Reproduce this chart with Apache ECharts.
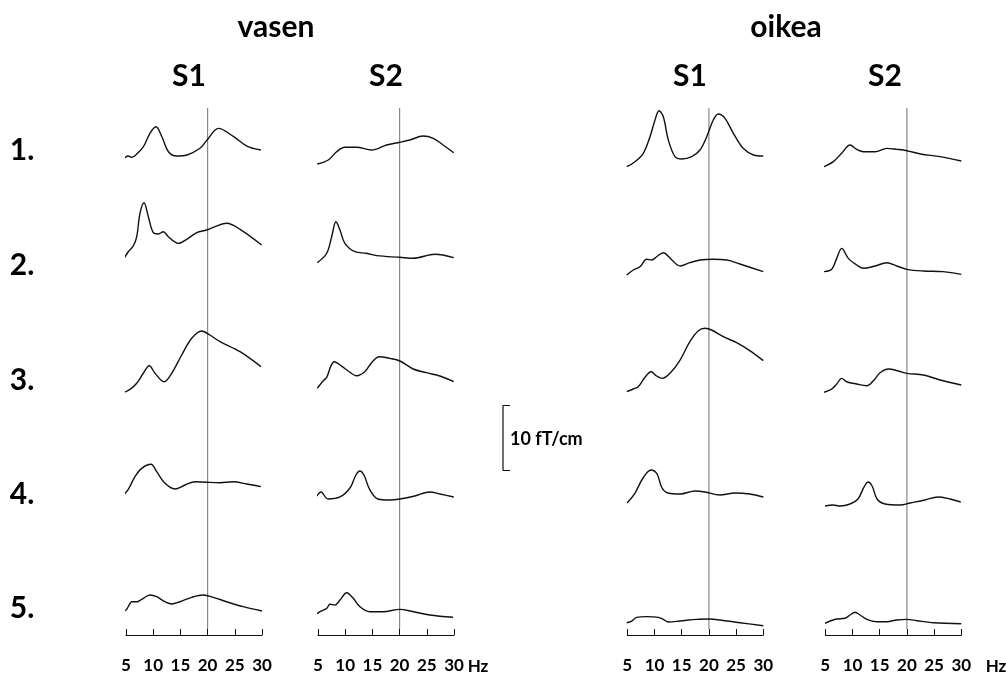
<!DOCTYPE html>
<html><head><meta charset="utf-8">
<script src="https://cdn.jsdelivr.net/npm/echarts@6/dist/echarts.min.js"></script>
<style>html,body{margin:0;padding:0;background:#fff}#c{width:1006px;height:680px}</style>
</head><body><div id="c"></div>
<script>
// ---- data ----
const freqTicks = [5, 10, 15, 20, 25, 30];
const rowLabels = ['1.', '2.', '3.', '4.', '5.'];
const sideLabels = ['vasen', 'oikea'];
const stimLabels = ['S1', 'S2'];
const markerHz = 20;
const scaleBarValue = 10;
const scaleBarLabel = '10 fT/cm';
const unitLabel = 'Hz';

// [frequency Hz, amplitude fT/cm above each row's baseline]
const vasenS1 = [
  [[4.5,2.42],[5.4,2.92],[6.0,2.72],[6.65,2.97],[8.2,4.35],[9.4,6.42],[10.5,7.43],[11.6,5.89],[12.8,3.58],[14.3,2.92],[16.2,3.08],[18.6,4.11],[19.9,5.38],[22.0,7.18],[24.8,5.89],[27.2,4.46],[29.8,3.85]],
  [[4.6,4.77],[5.42,5.89],[6.34,6.77],[6.97,8.2],[7.57,11.8],[8.31,13.43],[9.1,11.28],[10.02,8.82],[10.94,8.62],[11.86,8.97],[12.78,8.2],[14.61,7.18],[16.16,7.8],[18.0,8.82],[19.83,9.23],[21.36,9.74],[23.51,10.26],[25.96,9.34],[29.94,6.92]],
  [[4.63,1.95],[5.74,2.41],[6.97,3.34],[8.18,4.88],[9.28,6.05],[10.33,4.88],[11.99,3.58],[13.4,4.88],[15.24,7.69],[17.08,10.26],[18.9,11.38],[20.4,10.77],[22.3,9.74],[25.96,8.2],[29.8,5.9]],
  [[4.5,3.8],[5.42,4.72],[6.65,6.66],[7.89,7.95],[9.6,8.57],[10.64,7.43],[12.17,5.64],[14.0,4.77],[15.85,5.38],[17.7,5.89],[19.84,5.8],[22.28,5.74],[24.7,5.89],[27.2,5.54],[29.8,5.13]],
  [[4.82,3.74],[5.13,3.95],[5.74,4.87],[6.05,5.12],[6.97,5.12],[7.89,5.49],[9.41,6.15],[10.64,5.89],[12.17,5.12],[13.4,4.77],[14.93,5.12],[17.08,5.8],[19.2,6.15],[21.05,5.8],[23.5,5.12],[26.56,4.36],[30.0,3.69]]
];
const vasenS2 = [
  [[4.87,1.69],[6.89,2.31],[8.43,3.58],[9.95,4.26],[12.1,4.26],[14.85,3.85],[17.6,4.62],[20.05,5.03],[21.9,5.38],[24.3,5.99],[26.2,5.64],[28.0,4.62],[29.95,3.43]],
  [[4.87,4.2],[6.6,5.65],[7.51,8.2],[8.3,10.5],[9.04,9.23],[9.95,7.18],[11.8,5.89],[13.9,5.65],[15.8,5.28],[20.05,5.03],[22.5,4.88],[26.5,5.49],[29.95,4.97]],
  [[4.87,2.57],[5.97,3.74],[6.6,4.26],[7.33,5.9],[7.99,6.66],[9.35,5.99],[10.56,5.23],[12.1,4.51],[13.6,5.12],[14.85,6.5],[16.25,7.43],[18.2,7.18],[20.05,6.77],[22.5,5.54],[24.9,4.97],[27.4,4.46],[29.95,3.58]],
  [[4.8,3.69],[5.55,4.31],[6.83,3.23],[9.04,3.54],[10.87,4.92],[11.97,6.92],[12.7,7.54],[13.44,6.92],[14.54,4.62],[16.0,3.23],[18.2,3.08],[20.05,3.23],[22.8,3.69],[25.55,4.31],[27.4,4.0],[29.95,3.54]],
  [[4.76,3.23],[5.37,3.58],[6.6,4.1],[7.2,4.72],[8.12,4.62],[9.04,5.38],[10.27,6.51],[11.48,5.64],[12.7,4.36],[14.54,3.58],[16.98,3.58],[20.05,3.95],[22.5,3.58],[25.55,3.08],[29.83,2.72]]
];
const oikeaS1 = [
  [[4.9,1.28],[6.42,2.05],[7.94,3.34],[9.17,5.89],[10.09,8.46],[10.83,9.89],[11.62,8.97],[12.54,5.38],[13.77,2.82],[15.0,2.46],[16.84,2.82],[18.36,3.85],[19.6,5.89],[20.8,8.46],[21.73,9.38],[22.96,8.72],[24.5,6.41],[26.3,4.1],[28.2,3.08],[30.0,2.92]],
  [[4.9,2.31],[6.1,3.08],[7.33,3.58],[8.57,4.72],[9.49,4.62],[10.4,5.12],[11.6,5.74],[13.2,4.62],[14.7,3.69],[16.5,4.2],[18.4,4.62],[20.8,4.72],[23.3,4.62],[25.7,4.0],[30.0,2.82]],
  [[4.9,2.05],[6.1,2.46],[7.02,2.82],[8.25,4.26],[9.36,5.12],[10.4,4.46],[11.43,4.1],[12.85,4.87],[14.7,6.92],[16.5,9.74],[18.05,11.43],[19.3,11.8],[20.5,11.54],[22.65,10.51],[25.1,9.59],[27.5,8.36],[30.0,6.82]],
  [[4.95,2.62],[6.42,4.15],[7.89,6.46],[9.36,7.69],[10.47,7.08],[11.38,4.92],[12.48,4.15],[14.7,4.0],[17.45,4.46],[19.3,4.31],[22.0,3.85],[24.8,4.15],[27.5,4.0],[30.0,3.54]],
  [[4.9,1.89],[5.81,2.15],[6.73,2.72],[8.57,2.82],[10.7,2.72],[11.6,2.41],[12.54,2.0],[14.7,2.15],[17.76,2.41],[20.2,2.46],[22.04,2.31],[25.7,1.89],[30.0,1.43]]
];
const oikeaS2 = [
  [[4.76,1.28],[6.47,2.05],[8.0,3.34],[9.55,4.62],[10.78,3.95],[12.0,3.58],[14.15,3.58],[16.3,4.1],[18.15,3.95],[20.0,3.74],[22.5,3.23],[26.1,2.82],[30.0,2.15]],
  [[4.76,2.82],[6.18,3.18],[7.1,4.87],[8.02,6.41],[9.24,4.87],[10.78,3.85],[12.0,3.34],[14.15,3.69],[16.3,4.2],[18.15,3.69],[20.0,3.18],[23.05,2.92],[26.7,2.82],[30.0,2.4]],
  [[4.76,1.95],[6.18,2.46],[7.1,3.23],[8.02,4.1],[8.94,3.58],[10.78,3.23],[12.62,2.97],[13.84,3.74],[15.07,4.97],[16.6,5.54],[18.44,5.23],[20.0,4.87],[23.05,4.62],[26.1,3.85],[30.0,3.08]],
  [[4.95,2.15],[6.42,2.31],[7.71,2.15],[9.55,2.46],[11.0,3.23],[12.13,5.08],[12.86,5.85],[13.6,5.23],[14.52,3.23],[16.0,2.46],[18.75,2.31],[20.6,2.62],[23.3,3.08],[25.7,3.54],[27.9,3.23],[29.9,2.77]],
  [[4.95,1.8],[5.87,2.15],[7.1,2.46],[8.63,2.57],[9.55,3.08],[10.47,3.49],[11.39,3.08],[12.62,2.41],[14.47,2.05],[16.3,2.05],[18.15,2.31],[20.0,2.41],[21.83,2.2],[24.9,1.89],[30.0,1.74]]
];

// ---- layout ----
const FONT = 'Lato';
const columns = [vasenS1, vasenS2, oikeaS1, oikeaS2];
const colLeft = [126, 318, 627.3, 825.3];
const colWidth = 136;
const rowBase = [175, 290, 405, 520, 635];
const yMax = 18, gridH = 117;   // 6.5 px per fT/cm

const grid = [], xAxis = [], yAxis = [], series = [];
function addGrid(g, xa, ya) {
  const i = grid.length;
  grid.push(Object.assign({ outerBoundsMode: 'none', containLabel: false }, g));
  xa.gridIndex = i; ya.gridIndex = i;
  xAxis.push(xa); yAxis.push(ya);
  return i;
}
const hiddenY = (min, max) => ({ type: 'value', min, max, show: false });

columns.forEach((col, c) => {
  col.forEach((curve, r) => {
    const bottomRow = r === rowBase.length - 1;
    const xa = {
      type: 'value', min: freqTicks[0], max: freqTicks[freqTicks.length - 1], interval: 5,
      show: bottomRow, offset: 17,
      axisLine: { show: true, lineStyle: { color: '#111', width: 1 } },
      axisTick: { show: true, inside: true, length: 6, lineStyle: { color: '#111', width: 1 } },
      axisLabel: { show: true, margin: 5, color: '#000', fontFamily: FONT, fontWeight: 'bold', fontSize: 17 },
      splitLine: { show: false }
    };
    const gi = addGrid({ left: colLeft[c], width: colWidth, top: rowBase[r] - gridH, height: gridH }, xa, hiddenY(0, yMax));
    series.push({
      type: 'line', xAxisIndex: gi, yAxisIndex: gi, data: curve, smooth: 0.35,
      showSymbol: false, clip: false, silent: true,
      lineStyle: { color: '#111', width: 1.4 }
    });
  });
  // 20 Hz marker line spanning the column
  const gi = addGrid({ left: colLeft[c], width: colWidth, top: 108, height: 521 },
    { type: 'value', min: 5, max: 30, show: false }, hiddenY(0, 1));
  series.push({
    type: 'line', xAxisIndex: gi, yAxisIndex: gi, data: [[markerHz, 0], [markerHz, 1]],
    showSymbol: false, silent: true, z: 1, lineStyle: { color: '#888', width: 1.2 }
  });
});

// scale bar
{
  const gi = addGrid({ left: 503, width: 7, top: 470.5 - gridH, height: gridH },
    { type: 'value', min: 0, max: 1, show: false }, hiddenY(0, yMax));
  series.push({
    type: 'line', xAxisIndex: gi, yAxisIndex: gi,
    data: [[1, 0], [0, 0], [0, scaleBarValue], [1, scaleBarValue]],
    showSymbol: false, silent: true, lineStyle: { color: '#111', width: 1.2 }
  });
}

// text
const title = [];
function txt(text, x, y, size) {
  title.push({ text, left: x, top: y, textAlign: 'center', textVerticalAlign: 'middle', padding: 0,
    textStyle: { fontFamily: FONT, fontWeight: 'bold', fontSize: size, color: '#000' } });
}
txt(sideLabels[0], 276, 27, 30);
txt(sideLabels[1], 786, 27, 30);
txt(stimLabels[0], 189, 76, 30);
txt(stimLabels[1], 386, 76, 30);
txt(stimLabels[0], 690, 76, 30);
txt(stimLabels[1], 885, 76, 30);
const rowLabelY = [150, 265, 380, 494, 608];
rowLabels.forEach((l, i) => txt(l, 22, rowLabelY[i], 30));
txt(unitLabel, 478, 667, 17);
txt(unitLabel, 996, 667, 17);
title.push({ text: scaleBarLabel, left: 510, top: 439, textAlign: 'left', textVerticalAlign: 'middle', padding: 0,
  textStyle: { fontFamily: FONT, fontWeight: 'bold', fontSize: 18, color: '#000' } });

const chart = echarts.init(document.getElementById('c'), null, { renderer: 'canvas' });
chart.setOption({ backgroundColor: '#fff', animation: false, title, grid, xAxis, yAxis, series });
</script></body></html>
